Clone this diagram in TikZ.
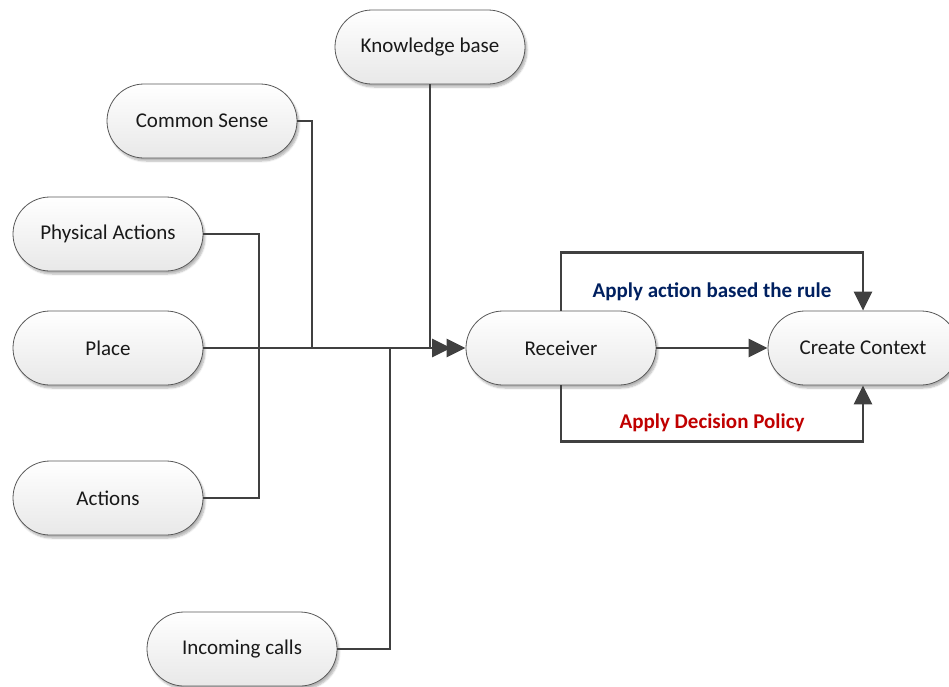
\documentclass[tikz,border=0pt]{standalone}
\usepackage{fontspec}
\setmainfont{Carlito}
\usetikzlibrary{arrows.meta,shadows.blur}
\definecolor{linegray}{HTML}{404040}
\definecolor{rulenavy}{HTML}{002060}
\definecolor{policyred}{HTML}{C00000}
\begin{document}
\begin{tikzpicture}[x=1pt,y=-1pt,
  pill/.style={rectangle, rounded corners=37pt, minimum width=190pt, minimum height=74pt,
    inner sep=0pt, draw=black!65, line width=0.8pt, top color=white, bottom color=black!9,
    blur shadow={shadow xshift=2pt, shadow yshift=-3pt, shadow blur steps=6, shadow opacity=30},
    font=\fontsize{21}{25}\selectfont, text=black!90},
  conn/.style={draw=linegray, line width=2.8pt},
  arr/.style={-{Triangle[length=19pt,width=18pt]}},
  tag/.style={font=\fontsize{21}{25}\selectfont\bfseries}
]
\useasboundingbox (0,0) rectangle (949,686);

% boxes
\node[pill] (kb)    at (430,47)  {Knowledge base};
\node[pill] (cs)    at (202,121) {Common Sense};
\node[pill] (phys)  at (108,234) {Physical Actions};
\node[pill] (place) at (108,348) {Place};
\node[pill] (act)   at (108,498) {Actions};
\node[pill] (inc)   at (242,649) {Incoming calls};
\node[pill] (recv)  at (561,348) {Receiver};
\node[pill] (ctx)   at (863,348) {Create Context};

% junction points on the main input line
\coordinate (pajoin)  at (259,348);
\coordinate (csjoin)  at (312,348);
\coordinate (incjoin) at (390,348);
\coordinate (kbend)   at (451,348);

% inputs feeding the receiver
\draw[conn] (phys.east) -| (pajoin);
\draw[conn] (act.east) -| (pajoin);
\draw[conn] (cs.east) -| (csjoin);
\draw[conn] (inc.east) -| (incjoin);
\draw[conn,arr] (place.east) -- (recv.west);
\draw[conn,arr] (kb.south) |- (kbend);

% receiver to context
\draw[conn,arr] (recv.east) -- (ctx.west);
\draw[conn,arr] (recv.north) -- ++(0,-58) -| (ctx.north);
\draw[conn,arr] (recv.south) -- ++(0,56) -| (ctx.south);

% rule labels
\node[tag, text=rulenavy]  (rule)   at (712,292) {Apply action based the rule};
\node[tag, text=policyred] (policy) at (712,423) {Apply Decision Policy};
\end{tikzpicture}
\end{document}
